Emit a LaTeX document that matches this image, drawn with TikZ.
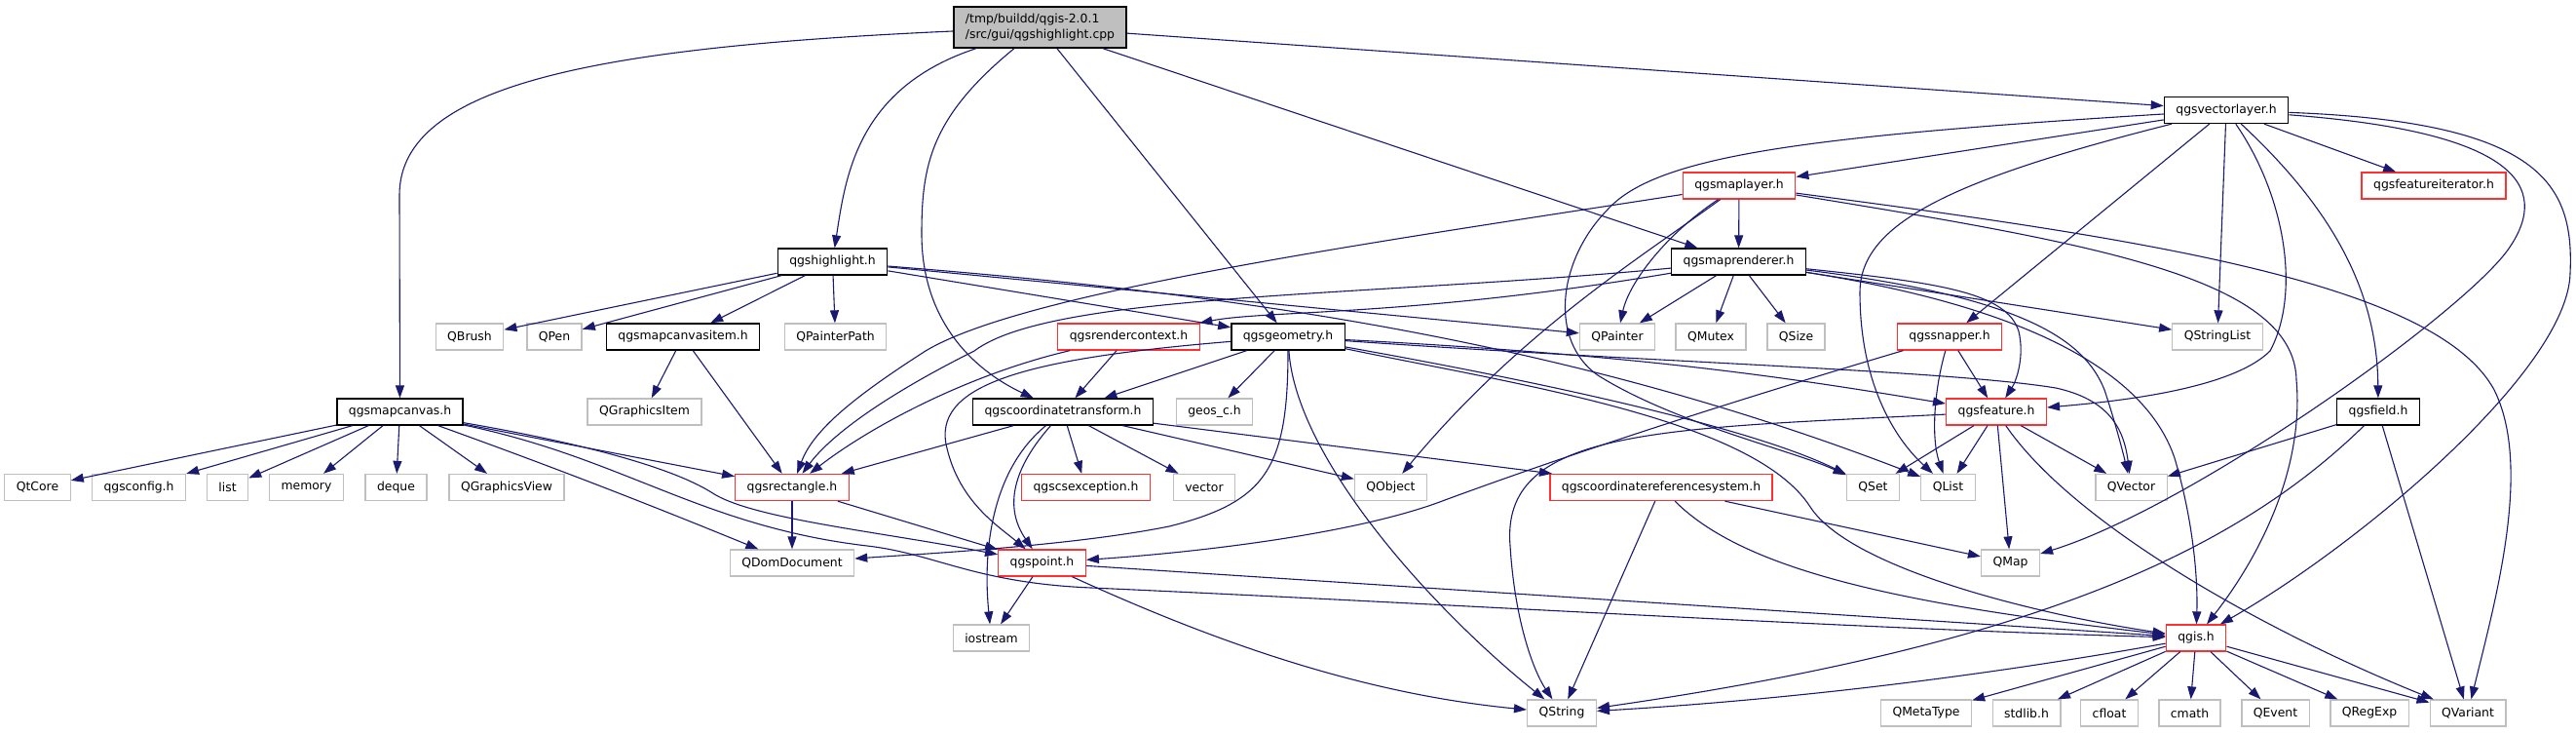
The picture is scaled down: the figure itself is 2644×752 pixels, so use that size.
\documentclass[tikz,border=0pt]{standalone}
\usepackage{fontspec}
\setmainfont{DejaVu Sans}
\usepackage{tikz}
\usetikzlibrary{arrows.meta}
\definecolor{dxedge}{HTML}{191970}
\definecolor{dxred}{HTML}{FF3030}
\definecolor{dxgrey}{HTML}{BFBFBF}

\begin{document}
\begin{tikzpicture}[
  x=1pt,y=-1pt,
  every node/.style={font=\fontsize{12.4}{15.5}\selectfont,inner xsep=12pt,inner ysep=0pt,minimum height=27pt,line width=1.3pt},
  hdr/.style={draw=black,fill=white},
  hdrred/.style={draw=dxred,fill=white},
  ext/.style={draw=dxgrey,fill=white},
  root/.style={draw=black,fill=dxgrey,align=left,minimum height=42pt},
  edge/.style={-{Triangle[length=13pt,width=9pt]},line width=1.1pt,color=dxedge}
]
\path[fill=white] (0,0) rectangle (2644,752);

\node[root] (cpp) at (1067.5,28) {/tmp/buildd/qgis-2.0.1\\/src/gui/qgshighlight.cpp};
\node[hdr] (vlayer) at (2285,113) {qgsvectorlayer.h};
\node[hdrred] (maplayer) at (1785,190.5) {qgsmaplayer.h};
\node[hdrred] (featit) at (2498,190.5) {qgsfeatureiterator.h};
\node[hdr] (highlight) at (854.5,268.5) {qgshighlight.h};
\node[hdr] (renderer) at (1784.5,268.5) {qgsmaprenderer.h};
\node[ext] (qbrush) at (482,345.5) {QBrush};
\node[ext] (qpen) at (569,345.5) {QPen};
\node[hdr] (canvasitem) at (701,345.5) {qgsmapcanvasitem.h};
\node[ext] (qpainterpath) at (857.5,345.5) {QPainterPath};
\node[hdrred] (rendercontext) at (1158.5,345.5) {qgsrendercontext.h};
\node[hdr] (geometry) at (1322,345.5) {qgsgeometry.h};
\node[ext] (qpainter) at (1660,345.5) {QPainter};
\node[ext] (qmutex) at (1756,345.5) {QMutex};
\node[ext] (qsize) at (1843.5,345.5) {QSize};
\node[hdrred] (snapper) at (2001,345.5) {qgssnapper.h};
\node[ext] (qstringlist) at (2276,345.5) {QStringList};
\node[hdr] (canvas) at (410.5,422.5) {qgsmapcanvas.h};
\node[ext] (qgraphicsitem) at (661.5,422.5) {QGraphicsItem};
\node[hdr] (transform) at (1091,422.5) {qgscoordinatetransform.h};
\node[ext] (geos) at (1246.5,422.5) {geos\_c.h};
\node[hdrred] (feature) at (2049,422.5) {qgsfeature.h};
\node[hdr] (field) at (2441,422.5) {qgsfield.h};
\node[ext] (qtcore) at (38.5,500) {QtCore};
\node[ext] (qgsconfig) at (142.5,500) {qgsconfig.h};
\node[ext] (list) at (233.5,500) {list};
\node[ext] (memory) at (314.5,500) {memory};
\node[ext] (deque) at (406.5,500) {deque};
\node[ext] (qgraphicsview) at (520,500) {QGraphicsView};
\node[hdrred] (rectangle) at (813,500) {qgsrectangle.h};
\node[hdrred] (csexception) at (1114.5,500) {qgscsexception.h};
\node[ext] (vector) at (1236,500) {vector};
\node[ext] (qobject) at (1427.5,500) {QObject};
\node[hdrred] (crs) at (1705,500) {qgscoordinatereferencesystem.h};
\node[ext] (qset) at (1922.5,500) {QSet};
\node[ext] (qlist) at (1999.5,500) {QList};
\node[ext] (qvector) at (2187.5,500) {QVector};
\node[ext] (qdomdocument) at (813,577.5) {QDomDocument};
\node[hdrred] (point) at (1069.5,577.5) {qgspoint.h};
\node[ext] (qmap) at (2063.5,577.5) {QMap};
\node[ext] (iostream) at (1017.5,654.5) {iostream};
\node[hdrred] (qgis) at (2254,654.5) {qgis.h};
\node[ext] (qstring) at (1603,731.5) {QString};
\node[ext] (qmetatype) at (1977,731.5) {QMetaType};
\node[ext] (stdlib) at (2080,731.5) {stdlib.h};
\node[ext] (cfloat) at (2165,731.5) {cfloat};
\node[ext] (cmath) at (2247.5,731.5) {cmath};
\node[ext] (qevent) at (2335.5,731.5) {QEvent};
\node[ext] (qregexp) at (2432,731.5) {QRegExp};
\node[ext] (qvariant) at (2533,731.5) {QVariant};

\draw[edge] (cpp) .. controls (620,48) and (410,85) .. (410,200) -- (canvas);
\draw[edge] (cpp) .. controls (880,90) and (868,180) .. (highlight);
\draw[edge] (cpp) .. controls (955,120) and (946,170) .. (946,240) .. controls (946,330) and (1000,380) .. (transform);
\draw[edge] (cpp) -- (geometry);
\draw[edge] (cpp) -- (renderer);
\draw[edge] (cpp) -- (vlayer);

\draw[edge] (vlayer) -- (maplayer);
\draw[edge] (vlayer) -- (featit);
\draw[edge] (vlayer) -- (qstringlist);
\draw[edge] (vlayer) -- (snapper);
\draw[edge] (vlayer) .. controls (2345,200) and (2362,300) .. (2330,360) .. controls (2290,400) and (2170,412) .. (feature);
\draw[edge] (vlayer) .. controls (2395,215) and (2440,300) .. (field);
\draw[edge] (vlayer) .. controls (2580,135) and (2620,190) .. (2575,255) .. controls (2530,320) and (2250,520) .. (qmap);
\draw[edge] (vlayer) .. controls (2610,125) and (2642,190) .. (2638,280) .. controls (2636,380) and (2420,560) .. (qgis);
\draw[edge] (vlayer) .. controls (2000,185) and (1909,230) .. (1909,300) .. controls (1909,400) and (1950,455) .. (qlist);
\draw[edge] (vlayer) .. controls (1850,140) and (1700,160) .. (1650,215) .. controls (1598,268) and (1590,350) .. (1640,385) .. controls (1720,435) and (1840,462) .. (qset);

\draw[edge] (highlight) -- (qbrush);
\draw[edge] (highlight) -- (qpen);
\draw[edge] (highlight) -- (canvasitem);
\draw[edge] (highlight) -- (qpainterpath);
\draw[edge] (highlight) -- (geometry);
\draw[edge] (highlight) -- (qpainter);
\draw[edge] (highlight) .. controls (1250,300) and (1600,345) .. (qlist);

\draw[edge] (canvasitem) -- (qgraphicsitem);
\draw[edge] (canvasitem) -- (rectangle);

\draw[edge] (canvas) -- (qtcore);
\draw[edge] (canvas) -- (qgsconfig);
\draw[edge] (canvas) -- (list);
\draw[edge] (canvas) -- (memory);
\draw[edge] (canvas) -- (deque);
\draw[edge] (canvas) -- (qgraphicsview);
\draw[edge] (canvas) .. controls (570,480) and (660,515) .. (qdomdocument);
\draw[edge] (canvas) -- (rectangle);
\draw[edge] (canvas) .. controls (600,455) and (690,480) .. (730,505) .. controls (770,532) and (900,545) .. (point);
\draw[edge] (canvas) .. controls (640,470) and (720,540) .. (890,560) .. controls (960,568) and (1000,598) .. (1120,603) .. controls (1500,620) and (1900,645) .. (qgis);

\draw[edge] (rectangle) -- (qdomdocument);
\draw[edge] (rectangle) -- (point);

\draw[edge] (maplayer) -- (renderer);
\draw[edge] (maplayer) .. controls (1400,250) and (1050,300) .. (950,360) .. controls (880,405) and (835,440) .. (rectangle);
\draw[edge] (maplayer) .. controls (1690,260) and (1560,340) .. (qobject);
\draw[edge] (maplayer) .. controls (1710,240) and (1672,290) .. (qpainter);
\draw[edge] (maplayer) .. controls (2200,245) and (2500,290) .. (2560,400) .. controls (2600,480) and (2560,620) .. (qvariant);
\draw[edge] (maplayer) .. controls (2150,250) and (2355,285) .. (2357,390) .. controls (2365,480) and (2320,570) .. (qgis);

\draw[edge] (renderer) -- (qpainter);
\draw[edge] (renderer) -- (qmutex);
\draw[edge] (renderer) -- (qsize);
\draw[edge] (renderer) -- (qstringlist);
\draw[edge] (renderer) .. controls (1990,290) and (2060,300) .. (2072,340) .. controls (2078,365) and (2070,390) .. (feature);
\draw[edge] (renderer) .. controls (2080,305) and (2140,350) .. (2160,400) .. controls (2170,430) and (2178,460) .. (qvector);
\draw[edge] (renderer) .. controls (2100,318) and (2205,390) .. (2232,470) .. controls (2250,530) and (2256,590) .. (qgis);
\draw[edge] (renderer) .. controls (1450,325) and (1300,318) .. (rendercontext);
\draw[edge] (renderer) .. controls (1400,305) and (1080,300) .. (1000,360) .. controls (900,410) and (850,450) .. (rectangle);

\draw[edge] (rendercontext) -- (transform);
\draw[edge] (rendercontext) .. controls (990,385) and (890,440) .. (rectangle);

\draw[edge] (geometry) -- (geos);
\draw[edge] (geometry) -- (transform);
\draw[edge] (geometry) .. controls (1050,368) and (955,395) .. (972,460) .. controls (985,515) and (1025,540) .. (point);
\draw[edge] (geometry) .. controls (1330,470) and (1470,625) .. (qstring);
\draw[edge] (geometry) .. controls (1322,480) and (1300,515) .. (1200,540) .. controls (1100,560) and (950,568) .. (qdomdocument);
\draw[edge] (geometry) .. controls (1700,365) and (1850,390) .. (feature);
\draw[edge] (geometry) .. controls (1700,372) and (2000,380) .. (2110,398) .. controls (2165,410) and (2180,440) .. (qvector);
\draw[edge] (geometry) .. controls (1600,395) and (1800,440) .. (qset);
\draw[edge] (geometry) .. controls (1560,395) and (1800,430) .. (1858,520) .. controls (1900,585) and (2100,632) .. (qgis);

\draw[edge] (transform) -- (rectangle);
\draw[edge] (transform) -- (csexception);
\draw[edge] (transform) -- (vector);
\draw[edge] (transform) -- (qobject);
\draw[edge] (transform) -- (crs);
\draw[edge] (transform) .. controls (1040,480) and (1030,520) .. (point);
\draw[edge] (transform) .. controls (1020,480) and (1008,560) .. (iostream);

\draw[edge] (point) -- (iostream);
\draw[edge] (point) .. controls (1250,660) and (1400,712) .. (qstring);
\draw[edge] (point) -- (qgis);

\draw[edge] (crs) -- (qstring);
\draw[edge] (crs) .. controls (1790,585) and (1950,620) .. (qgis);
\draw[edge] (crs) -- (qmap);

\draw[edge] (snapper) .. controls (1750,420) and (1600,470) .. (1483,513) .. controls (1400,545) and (1250,565) .. (point);
\draw[edge] (snapper) -- (feature);
\draw[edge] (snapper) .. controls (1985,400) and (1982,450) .. (qlist);

\draw[edge] (feature) -- (qset);
\draw[edge] (feature) -- (qlist);
\draw[edge] (feature) -- (qmap);
\draw[edge] (feature) -- (qvector);
\draw[edge] (feature) .. controls (2130,540) and (2330,650) .. (qvariant);
\draw[edge] (feature) .. controls (1700,440) and (1540,440) .. (1550,560) .. controls (1555,640) and (1575,690) .. (qstring);

\draw[edge] (field) -- (qvector);
\draw[edge] (field) .. controls (2300,560) and (2100,660) .. (qstring);
\draw[edge] (field) -- (qvariant);

\draw[edge] (qgis) .. controls (2000,700) and (1800,720) .. (qstring);
\draw[edge] (qgis) -- (qmetatype);
\draw[edge] (qgis) -- (stdlib);
\draw[edge] (qgis) -- (cfloat);
\draw[edge] (qgis) -- (cmath);
\draw[edge] (qgis) -- (qevent);
\draw[edge] (qgis) -- (qregexp);
\draw[edge] (qgis) -- (qvariant);
\end{tikzpicture}
\end{document}
